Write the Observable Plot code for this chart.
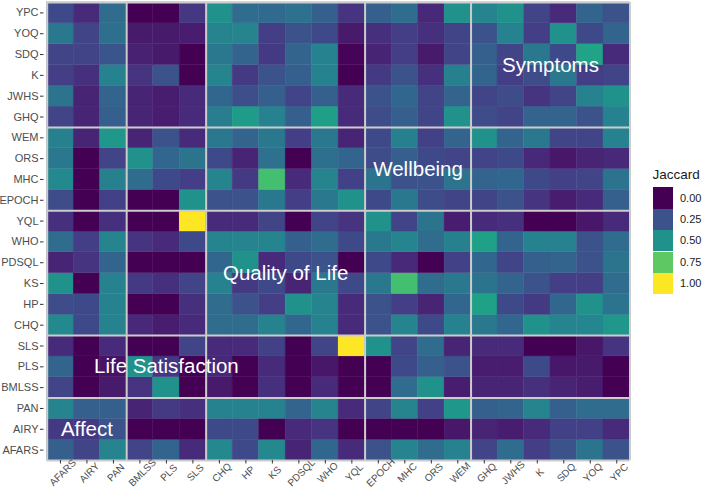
<!DOCTYPE html>
<html>
<head>
<meta charset="utf-8">
<script src="https://cdn.jsdelivr.net/npm/d3@7"></script>
<script src="https://cdn.jsdelivr.net/npm/@observablehq/plot@0.6"></script>
<style>
  html, body { margin: 0; padding: 0; background: #fff; }
  #wrap { position: relative; width: 709px; height: 488px; font-family: "Liberation Sans", Arial, Helvetica, sans-serif; }
  #wrap svg { position: absolute; left: 0; top: 0; }
  .lg-title { position: absolute; font-size: 13.5px; color: #1a1a1a; line-height: 13.5px; white-space: nowrap; }
  .lg-key { position: absolute; }
  .lg-lab { position: absolute; font-size: 11px; color: #1a1a1a; line-height: 11px; white-space: nowrap; }
</style>
</head>
<body>
<div id="wrap"></div>
<script>
// Categories (bottom-to-top on y, left-to-right on x)
const categories = ["AFARS","AIRY","PAN","BMLSS","PLS","SLS","CHQ","HP","KS","PDSQL","WHO","YQL","EPOCH","MHC","ORS","WEM","GHQ","JWHS","K","SDQ","YOQ","YPC"];
const groupNames = ["Affect","Life Satisfaction","Quality of Life","Wellbeing","Symptoms"];
const groupSizes = [3, 3, 6, 4, 6];
const legendBreaks = [0, 0.25, 0.5, 0.75, 1];
const legendLabels = ["0.00","0.25","0.50","0.75","1.00"];

// Jaccard values: one row per questionnaire, columns in `categories` order
const vYPC   = [0.22,0.12,0.35,0.00,0.00,0.16,0.50,0.35,0.34,0.37,0.30,0.15,0.30,0.35,0.11,0.50,0.45,0.50,0.20,0.12,0.32,0.25];
const vYOQ   = [0.40,0.20,0.36,0.07,0.07,0.08,0.45,0.45,0.18,0.25,0.22,0.07,0.14,0.18,0.14,0.20,0.25,0.44,0.18,0.50,0.22,0.32];
const vSDQ   = [0.20,0.20,0.26,0.09,0.07,0.00,0.40,0.32,0.17,0.32,0.44,0.01,0.10,0.18,0.07,0.20,0.30,0.20,0.40,0.22,0.58,0.12];
const vK     = [0.18,0.14,0.44,0.15,0.25,0.00,0.45,0.17,0.25,0.30,0.44,0.00,0.17,0.25,0.14,0.43,0.32,0.18,0.23,0.40,0.18,0.20];
const vJWHS  = [0.38,0.10,0.32,0.10,0.08,0.12,0.33,0.24,0.30,0.20,0.30,0.12,0.25,0.33,0.20,0.32,0.20,0.23,0.15,0.20,0.44,0.50];
const vGHQ   = [0.20,0.10,0.30,0.10,0.08,0.12,0.42,0.55,0.44,0.30,0.56,0.12,0.23,0.30,0.20,0.50,0.23,0.20,0.32,0.32,0.25,0.44];
const vWEM   = [0.43,0.10,0.53,0.10,0.25,0.12,0.40,0.32,0.40,0.18,0.40,0.10,0.22,0.43,0.19,0.32,0.50,0.32,0.40,0.20,0.20,0.44];
const vORS   = [0.40,0.00,0.20,0.50,0.33,0.38,0.22,0.10,0.37,0.00,0.36,0.32,0.23,0.30,0.22,0.20,0.20,0.22,0.11,0.06,0.10,0.11];
const vMHC   = [0.47,0.00,0.43,0.35,0.22,0.18,0.45,0.17,0.70,0.12,0.45,0.19,0.38,0.25,0.25,0.38,0.32,0.33,0.22,0.19,0.20,0.38];
const vEPOCH = [0.23,0.00,0.19,0.00,0.00,0.50,0.25,0.25,0.40,0.18,0.40,0.50,0.22,0.40,0.23,0.20,0.20,0.25,0.15,0.08,0.12,0.30];
const vYQL   = [0.14,0.00,0.14,0.00,0.00,1.00,0.12,0.12,0.20,0.00,0.20,0.15,0.50,0.20,0.38,0.08,0.12,0.14,0.00,0.00,0.06,0.12];
const vWHO   = [0.35,0.18,0.45,0.15,0.12,0.22,0.45,0.45,0.45,0.30,0.35,0.22,0.40,0.45,0.35,0.43,0.57,0.32,0.44,0.44,0.25,0.35];
const vPDSQL = [0.10,0.15,0.32,0.00,0.00,0.00,0.33,0.50,0.12,0.22,0.25,0.00,0.22,0.11,0.00,0.19,0.33,0.20,0.30,0.32,0.25,0.38];
const vKS    = [0.50,0.00,0.44,0.17,0.14,0.20,0.44,0.17,0.22,0.10,0.40,0.22,0.40,0.70,0.35,0.40,0.38,0.32,0.25,0.18,0.18,0.35];
const vHP    = [0.23,0.22,0.44,0.00,0.00,0.14,0.35,0.25,0.18,0.50,0.45,0.12,0.25,0.18,0.10,0.33,0.57,0.22,0.17,0.33,0.50,0.38];
const vCHQ   = [0.47,0.22,0.44,0.11,0.08,0.12,0.35,0.35,0.44,0.33,0.44,0.12,0.25,0.45,0.22,0.44,0.40,0.33,0.50,0.45,0.46,0.53];
const vSLS   = [0.12,0.00,0.12,0.00,0.00,0.20,0.12,0.12,0.19,0.00,0.20,1.00,0.50,0.20,0.35,0.10,0.12,0.12,0.00,0.00,0.06,0.15];
const vPLS   = [0.32,0.00,0.05,0.50,0.16,0.00,0.11,0.00,0.12,0.00,0.06,0.00,0.00,0.22,0.30,0.25,0.08,0.08,0.22,0.06,0.07,0.00];
const vBMLSS = [0.20,0.00,0.07,0.15,0.50,0.00,0.07,0.00,0.14,0.00,0.12,0.00,0.00,0.35,0.50,0.08,0.10,0.10,0.14,0.10,0.08,0.00];
const vPAN   = [0.45,0.30,0.30,0.10,0.17,0.14,0.44,0.44,0.44,0.32,0.45,0.12,0.20,0.45,0.19,0.53,0.30,0.32,0.45,0.30,0.35,0.35];
const vAIRY  = [0.17,0.17,0.25,0.00,0.00,0.00,0.22,0.22,0.00,0.12,0.15,0.00,0.00,0.00,0.00,0.06,0.10,0.08,0.12,0.19,0.19,0.12];
const vAFARS = [0.30,0.20,0.45,0.20,0.32,0.12,0.47,0.22,0.47,0.10,0.33,0.12,0.25,0.45,0.35,0.44,0.20,0.35,0.18,0.25,0.38,0.25];

// rows in `categories` order (bottom to top)
const rowValues = [vAFARS,vAIRY,vPAN,vBMLSS,vPLS,vSLS,vCHQ,vHP,vKS,vPDSQL,vWHO,vYQL,vEPOCH,vMHC,vORS,vWEM,vGHQ,vJWHS,vK,vSDQ,vYOQ,vYPC];

const n = categories.length;
const cells = [];
rowValues.forEach((row, i) => row.forEach((v, j) => cells.push({x1: j, x2: j + 1, y1: i, y2: i + 1, v})));

// group boundaries and centers
const bounds = [0];
groupSizes.forEach(s => bounds.push(bounds[bounds.length - 1] + s));
const groups = groupNames.map((name, k) => ({name, c: (bounds[k] + bounds[k + 1]) / 2}));
const tickPos = categories.map((_, i) => i + 0.5);

const chart = Plot.plot({
  width: 709,
  height: 488,
  marginLeft: 43.5,
  marginRight: 79.5,
  marginTop: 2,
  marginBottom: 28,
  style: {fontFamily: "'Liberation Sans', Arial, Helvetica, sans-serif", background: "transparent"},
  x: {domain: [0, n], insetLeft: 3.2, axis: null},
  y: {domain: [0, n], axis: null},
  color: {type: "linear", scheme: "viridis", domain: [0, 1]},
  marks: [
    Plot.rect(cells, {x1: "x1", x2: "x2", y1: "y1", y2: "y2", fill: "v", stroke: "v", strokeWidth: 0.4}),
    Plot.ruleX(bounds, {x: d => d, stroke: "#cccccc", strokeWidth: 2}),
    Plot.ruleY(bounds, {y: d => d, x1: 0, x2: n, stroke: "#cccccc", strokeWidth: 2}),
    Plot.text(groups, {x: "c", y: "c", text: "name", fill: "white", fontSize: 20.5, textAnchor: "middle", lineAnchor: "middle"}),
    Plot.axisY({ticks: tickPos, tickFormat: d => categories[Math.floor(d)], tickSize: 3.5, tickPadding: 2, fontSize: 11, fill: "#4d4d4d", stroke: "#333333"}),
    Plot.axisX({ticks: tickPos, tickSize: 3.5, stroke: "#333333", fill: "none"}),
    Plot.text(categories, {x: (d, i) => i + 0.5, frameAnchor: "bottom", dy: 12.2, dx: 2.5, text: d => d, rotate: -45, textAnchor: "middle", lineAnchor: "middle", fontSize: 10, fill: "#4d4d4d"})
  ]
});

const wrap = document.getElementById("wrap");
wrap.appendChild(chart);

// legend (colours taken from the chart's own colour scale)
const color = chart.scale("color");
const title = document.createElement("div");
title.className = "lg-title";
title.textContent = "Jaccard";
title.style.left = "652.5px";
title.style.top = "168px";
wrap.appendChild(title);
const keyW = 20.7, keyH = 21.4, keyTop = 187.3, keyLeft = 652.7;
legendBreaks.forEach((b, k) => {
  const key = document.createElement("div");
  key.className = "lg-key";
  key.style.left = keyLeft + "px";
  key.style.top = (keyTop + k * keyH) + "px";
  key.style.width = keyW + "px";
  key.style.height = keyH + "px";
  key.style.background = color.apply(b);
  wrap.appendChild(key);
  const lab = document.createElement("div");
  lab.className = "lg-lab";
  lab.textContent = legendLabels[k];
  lab.style.left = "680px";
  lab.style.top = (keyTop + k * keyH + keyH / 2 - 5.5) + "px";
  wrap.appendChild(lab);
});
</script>
</body>
</html>
